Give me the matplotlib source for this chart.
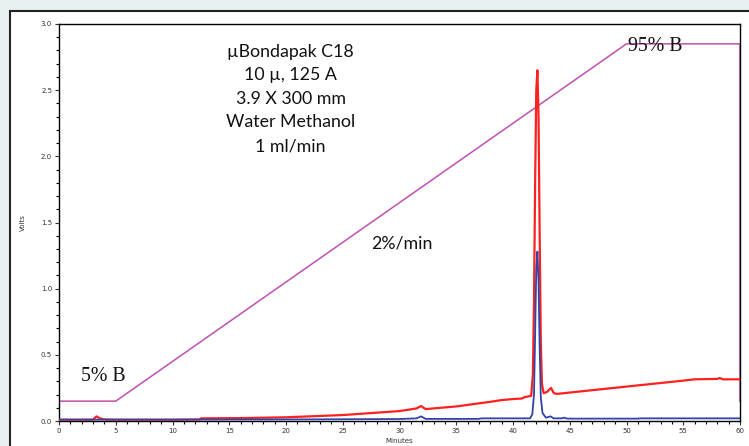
import numpy as np
import matplotlib.pyplot as plt
from matplotlib.ticker import MultipleLocator
from matplotlib.patches import Rectangle

# Gradient profile (%B drawn on the volts scale)
grad_t = [0, 5, 50, 60, 60]
grad_v = [0.15, 0.15, 2.85, 2.85, 0.15]

# Red trace
red_t = [0, 2, 3.0, 3.3, 3.6, 4.0, 5, 10, 12.4, 12.5, 16, 20, 25, 30, 31.5, 31.9,
         32.3, 35, 38, 39, 40, 40.8, 41.0, 41.6, 41.75, 41.85, 41.95, 42.05, 42.15,
         42.25, 42.35, 42.45, 42.55, 42.7, 43.0, 43.35, 43.6, 43.9, 45, 50, 55, 56,
         58.0, 58.2, 58.5, 60]
red_v = [0.01, 0.01, 0.01, 0.035, 0.02, 0.012, 0.01, 0.01, 0.012, 0.02, 0.022, 0.028,
         0.045, 0.075, 0.095, 0.113, 0.09, 0.11, 0.145, 0.158, 0.166, 0.17, 0.18, 0.19,
         0.35, 0.9, 1.8, 2.5, 2.65, 2.3, 1.4, 0.6, 0.28, 0.21, 0.22, 0.25, 0.21, 0.205,
         0.215, 0.26, 0.305, 0.315, 0.318, 0.325, 0.315, 0.315]

# Blue trace
blue_t = [0, 10, 21.5, 30, 31.5, 31.9, 32.3, 37, 37.2, 41.5, 41.7, 41.85, 41.95, 42.05,
          42.15, 42.25, 42.35, 42.45, 42.6, 42.9, 43.3, 43.6, 44.3, 44.5, 44.8, 51,
          51.3, 60]
blue_v = [0.01, 0.01, 0.012, 0.015, 0.02, 0.035, 0.016, 0.016, 0.02, 0.02, 0.05, 0.2,
          0.65, 1.15, 1.28, 1.05, 0.55, 0.18, 0.06, 0.025, 0.035, 0.02, 0.02, 0.025,
          0.018, 0.018, 0.02, 0.02]

info_lines = ["\u00b5Bondapak C18", "10 \u00b5, 125 A", "3.9 X 300 mm",
              "Water Methanol", "1 ml/min"]

fig = plt.figure(figsize=(7.49, 4.46), dpi=100)
fig.patch.set_facecolor("#e9f0f2")
# white panel with dark frame, behind the axes
fig.patches.append(Rectangle((10 / 749, -0.1), 1.1, (446 - 11) / 446 + 0.1,
                             transform=fig.transFigure, facecolor="white",
                             edgecolor="#222222", linewidth=1.5, zorder=-10))

ax = fig.add_axes([59 / 749, 1 - 421 / 446, 681 / 749, 397 / 446])
ax.set_zorder(5)
ax.set_facecolor("white")

ax.plot(grad_t, grad_v, color="#c050b0", lw=1.1, zorder=2)
ax.plot(red_t, red_v, color="#ff2020", lw=1.6, zorder=3)
ax.plot(blue_t, blue_v, color="#3045a8", lw=1.3, zorder=4)

ax.set_xlim(0, 60)
ax.set_ylim(0, 3.0)
ax.xaxis.set_minor_locator(MultipleLocator(1))
ax.yaxis.set_minor_locator(MultipleLocator(0.1))
ax.set_xticks(np.arange(0, 61, 5))
ax.set_xticklabels([str(v) for v in range(0, 61, 5)])
ax.set_yticks(np.arange(0, 3.01, 0.5))
ax.set_yticklabels(["%.1f" % v for v in np.arange(0, 3.01, 0.5)])
ax.tick_params(which="major", length=3, width=0.8, labelsize=5, colors="#333333",
               direction="out", pad=2)
ax.tick_params(which="minor", length=2, width=0.8, direction="out")
ax.set_xlabel("Minutes", fontsize=5, color="#333333", labelpad=3)
ax.set_ylabel("Volts", fontsize=5, color="#333333", labelpad=11)
for s in ax.spines.values():
    s.set_linewidth(1.0)
    s.set_color("black")

y0 = 2.79
for i, line in enumerate(info_lines):
    ax.text(20.4, y0 - i * 0.178, line, ha="center", va="center", fontsize=12.8,
            family="Lato", color="#111111")
ax.text(30.2, 1.345, "2%/min", ha="center", va="center", fontsize=12.8,
        family="Lato", color="#111111")
ax.text(3.9, 0.335, "5% B", ha="center", va="center", fontsize=14.3,
        family="Liberation Serif", color="#111111")
ax.text(50.1, 2.83, "95% B", ha="left", va="center", fontsize=14.3,
        family="Liberation Serif", color="#111111")

fig.savefig("out.png", dpi=100, facecolor=fig.get_facecolor())
